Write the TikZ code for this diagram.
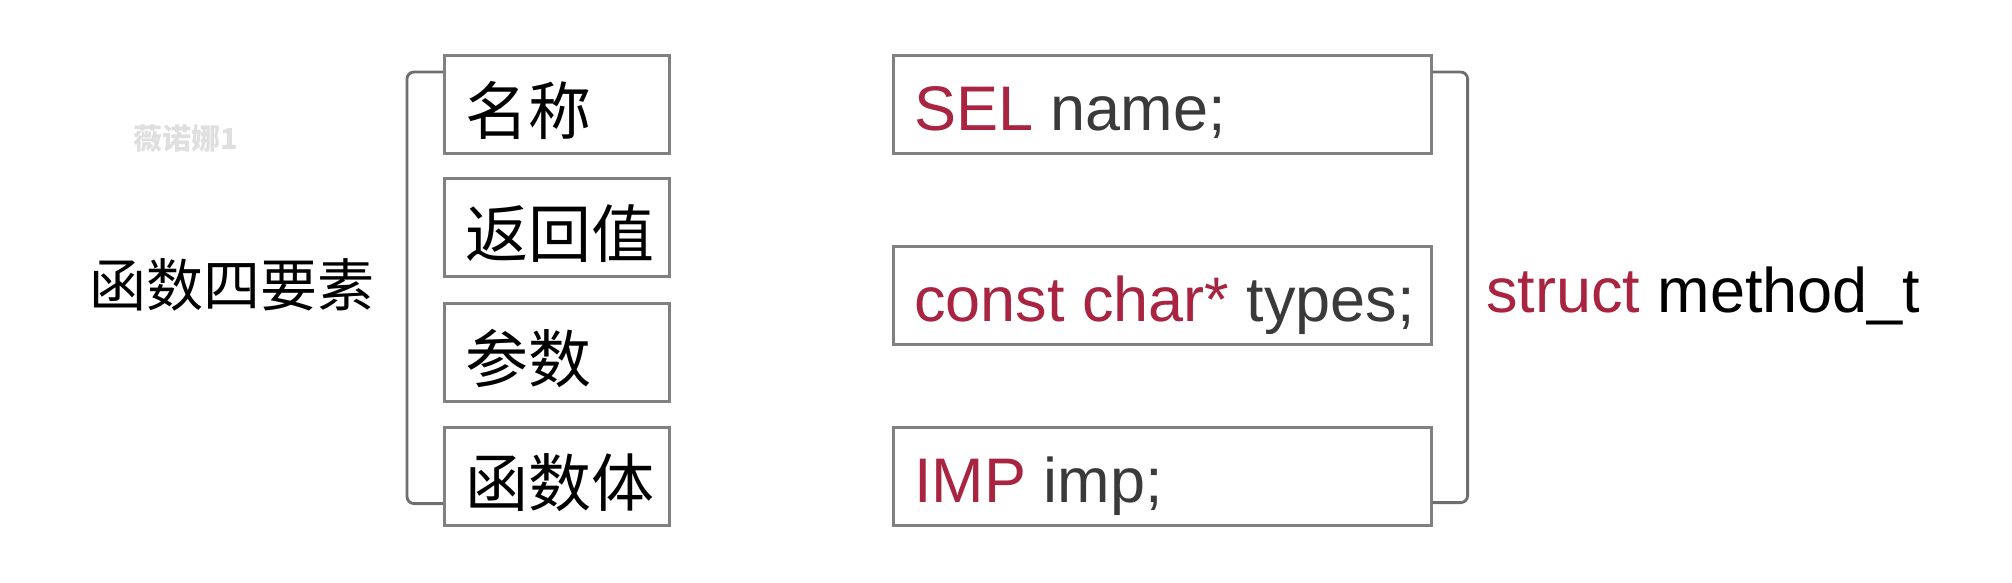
\documentclass[tikz,border=0pt]{standalone}
\usepackage{fontspec}
\setmainfont{Liberation Sans}
\newfontfamily\cjk{Noto Sans CJK SC}
\usetikzlibrary{positioning}
\definecolor{kwred}{RGB}{168,36,64}
\definecolor{idgray}{RGB}{58,58,58}
\definecolor{boxgray}{RGB}{128,128,128}
\definecolor{brkgray}{RGB}{110,110,110}
\tikzset{
  partbox/.style={draw=boxgray,line width=2.6pt,rectangle,anchor=north west,minimum width=225pt,minimum height=98pt,inner sep=0pt},
  fieldbox/.style={partbox,minimum width=538pt},
  cjktxt/.style={inner sep=0pt,font=\cjk\fontsize{63}{70}\selectfont,text=black},
  titletxt/.style={inner sep=0pt,font=\cjk\fontsize{57}{64}\selectfont,text=black},
  codetxt/.style={inner sep=0pt,font=\fontsize{63}{72}\selectfont,text=idgray},
  wmark/.style={inner sep=0pt,font=\cjk\bfseries\fontsize{29}{32}\selectfont,text=gray!25},
  bracket/.style={draw=brkgray,line width=2.8pt,rounded corners=7pt}
}

\begin{document}
\begin{tikzpicture}[x=1pt,y=-1pt]
  \useasboundingbox (0,0) rectangle (2012,582);
  % Watermark and title
  \node[wmark] (wm) at (186,139) {薇诺娜1};
  \node[titletxt] (title) at (232,285) {函数四要素};

  % Four parts of a function
  \node[partbox] (k1) at (443,54) {};
  \node[partbox] (k2) at (443,177) {};
  \node[partbox] (k3) at (443,302) {};
  \node[partbox] (k4) at (443,426) {};
  \node[cjktxt, anchor=west] (t1) at ([xshift=22pt,yshift=-6pt]k1.west) {名称};
  \node[cjktxt, anchor=west] (t2) at ([xshift=22pt,yshift=-6pt]k2.west) {返回值};
  \node[cjktxt, anchor=west] (t3) at ([xshift=22pt,yshift=-6pt]k3.west) {参数};
  \node[cjktxt, anchor=west] (t4) at ([xshift=22pt,yshift=-6pt]k4.west) {函数体};
  \draw[bracket] ([yshift=-18pt]k1.north west) -- ++(-36,0) |- ([yshift=23pt]k4.south west);

  % Fields of method_t
  \node[fieldbox] (m1) at (892,54) {};
  \node[fieldbox] (m2) at (892,245) {};
  \node[fieldbox] (m3) at (892,426) {};
  \node[codetxt, anchor=base west] (c1) at ([xshift=22pt,yshift=-26pt]m1.west) {\textcolor{kwred}{SEL} name;};
  \node[codetxt, anchor=base west] (c2) at ([xshift=22pt,yshift=-26pt]m2.west) {\textcolor{kwred}{const char*} types;};
  \node[codetxt, anchor=base west] (c3) at ([xshift=22pt,yshift=-26pt]m3.west) {\textcolor{kwred}{IMP} imp;};
  \draw[bracket] ([yshift=-18pt]m1.north east) -- ++(35,0) |- ([yshift=24pt]m3.south east);

  % Struct name
  \node[codetxt, anchor=base west, text=black] (st) at (1486,312) {\textcolor{kwred}{struct} method\_t};
\end{tikzpicture}
\end{document}
